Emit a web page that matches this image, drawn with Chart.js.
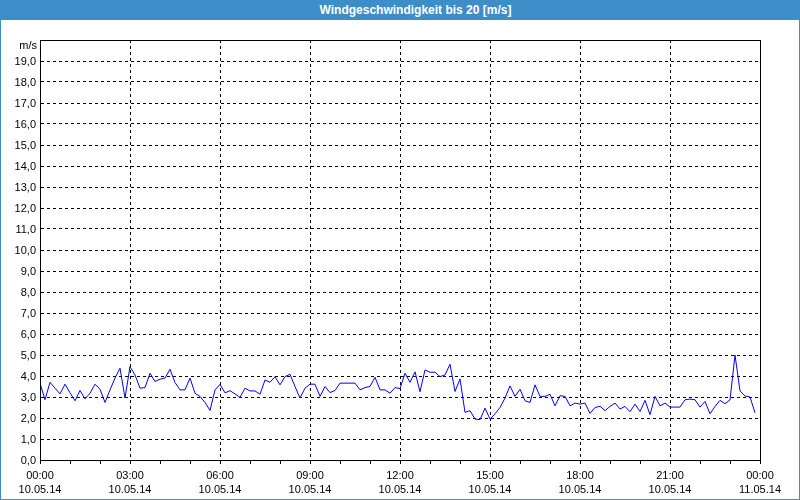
<!DOCTYPE html>
<html>
<head>
<meta charset="utf-8">
<script src="https://cdn.jsdelivr.net/npm/chart.js@4.4.0/dist/chart.umd.min.js"></script>
<style>
  body { margin: 0; background: #fff; }
  #frame {
    position: relative; width: 800px; height: 500px; box-sizing: border-box;
    border: 1px solid #3d8ec8; border-top: none; background: #fff;
  }
  #title {
    height: 20px; margin: 0 -1px; padding-left: 31px;
    background: #3d8ec8; color: #fff; text-align: center;
    font: bold 12px "Liberation Sans", Arial, sans-serif; line-height: 20px;
  }
  #box { position: absolute; left: 0; top: 20px; width: 798px; height: 479px; }
</style>
</head>
<body>
<div id="frame">
  <div id="title">Windgeschwindigkeit bis 20 [m/s]</div>
  <div id="box"><canvas id="chart"></canvas></div>
</div>
<script>
// one reading every 10 minutes, 10.05.14 00:00 .. 23:50
const stepMinutes = 10;
const windSpeed = [
  3.66, 2.87, 3.70, 3.42, 3.15, 3.61, 3.20, 2.82, 3.31, 2.91, 3.18, 3.61,
  3.37, 2.74, 3.34, 3.90, 4.37, 2.95, 4.45, 4.05, 3.42, 3.45, 4.13, 3.74,
  3.85, 3.90, 4.32, 3.69, 3.34, 3.34, 3.90, 3.18, 3.03, 2.74, 2.36, 3.34,
  3.60, 3.20, 3.30, 3.15, 2.98, 3.42, 3.29, 3.29, 3.13, 3.81, 3.70, 3.97,
  3.58, 3.97, 4.08, 3.50, 2.95, 3.42, 3.61, 3.61, 3.03, 3.50, 3.21, 3.31,
  3.66, 3.66, 3.66, 3.66, 3.34, 3.45, 3.50, 3.94, 3.34, 3.34, 3.18, 3.45,
  3.40, 4.13, 3.70, 4.20, 3.25, 4.29, 4.18, 4.18, 3.97, 4.05, 4.56, 3.26,
  3.86, 2.27, 2.35, 1.95, 1.92, 2.47, 1.95, 2.20, 2.50, 2.95, 3.53, 3.03,
  3.37, 2.82, 2.74, 3.58, 3.03, 3.03, 3.13, 2.58, 3.06, 3.03, 2.58, 2.71,
  2.66, 2.71, 2.22, 2.50, 2.56, 2.35, 2.55, 2.71, 2.43, 2.55, 2.30, 2.66,
  2.31, 2.84, 2.16, 3.03, 2.58, 2.71, 2.52, 2.52, 2.52, 2.87, 2.90, 2.87,
  2.52, 2.79, 2.20, 2.55, 2.84, 2.68, 2.86, 5.00, 3.29, 3.05, 3.00, 2.25
];

// x axis labels every 3 hours
const timeLabels = ["00:00", "03:00", "06:00", "09:00", "12:00", "15:00", "18:00", "21:00", "00:00"];
const dateLabels = ["10.05.14", "10.05.14", "10.05.14", "10.05.14", "10.05.14", "10.05.14", "10.05.14", "10.05.14", "11.05.14"];
const yUnit = "m/s";

const font = { family: "'Liberation Sans', Arial, sans-serif", size: 11 };

const points = windSpeed.map((v, i) => ({ x: i * stepMinutes / 60, y: v }));

const frameBox = {
  id: "frameBox",
  afterDraw(chart) {
    const { ctx, chartArea: a } = chart;
    ctx.save();
    ctx.strokeStyle = "#000";
    ctx.lineWidth = 1;
    ctx.strokeRect(a.left + 0.5, a.top + 0.5, a.right - a.left, a.bottom - a.top);
    ctx.fillStyle = "#000";
    ctx.font = "11px " + font.family;
    ctx.textAlign = "right";
    ctx.textBaseline = "middle";
    ctx.fillText(yUnit, a.left - 3, a.top + 6);
    ctx.restore();
  }
};

new Chart(document.getElementById("chart"), {
  type: "line",
  data: {
    datasets: [{
      data: points,
      borderColor: "#0000ff",
      borderWidth: 1,
      pointRadius: 0,
      tension: 0,
      fill: false
    }]
  },
  options: {
    responsive: true,
    maintainAspectRatio: false,
    animation: false,
    events: [],
    layout: { padding: { top: 20, right: 39, left: 0, bottom: 0 } },
    plugins: { legend: { display: false }, tooltip: { enabled: false } },
    scales: {
      x: {
        type: "linear",
        min: 0,
        max: 24,
        afterFit: s => { s.height = 39; },
        ticks: {
          stepSize: 1,
          autoSkip: false,
          maxRotation: 0,
          padding: 4,
          color: "#000",
          font: { family: font.family, size: 11, lineHeight: 1.36 },
          callback: v => (v % 3 === 0 ? [timeLabels[v / 3], dateLabels[v / 3]] : "")
        },
        grid: {
          color: c => (c.tick && c.tick.value % 3 === 0 && c.tick.value > 0 && c.tick.value < 24 ? "#000" : "rgba(0,0,0,0)"),
          tickColor: "#000",
          tickLength: 4
        },
        border: { color: "#000", dash: [3, 3] }
      },
      y: {
        min: 0,
        max: 20,
        afterFit: s => { s.width = 39; },
        ticks: {
          stepSize: 1,
          padding: 4,
          labelOffset: 1,
          color: "#000",
          font: font,
          callback: v => (v === 20 ? "" : v.toFixed(1).replace(".", ","))
        },
        grid: {
          drawTicks: false,
          color: c => (c.tick && c.tick.value > 0 && c.tick.value < 20 ? "#000" : "rgba(0,0,0,0)")
        },
        border: { color: "#000", dash: [3, 3] }
      }
    }
  },
  plugins: [frameBox]
});
</script>
</body>
</html>
